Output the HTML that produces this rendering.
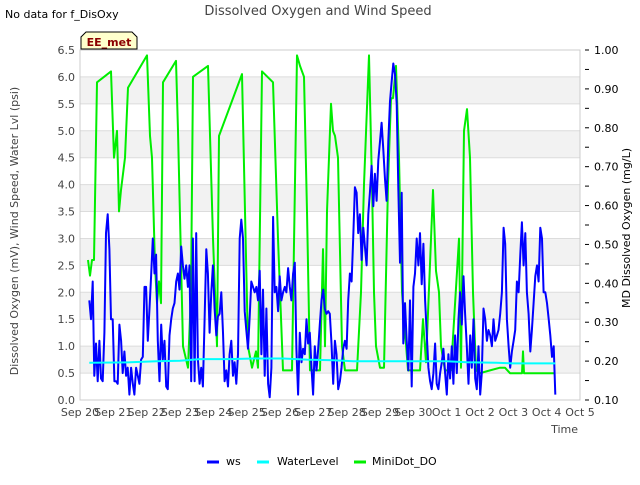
<!DOCTYPE html>
<html><head><meta charset="utf-8">
<style>
body{margin:0;background:#fff;}
svg text{font-family:"DejaVu Sans","Liberation Sans",sans-serif;}
</style></head>
<body>
<svg id="chart" width="640" height="480" viewBox="0 0 640 480">
<rect width="640" height="480" fill="#fff"/>
<text x="5" y="18" font-size="11" fill="#000">No data for f_DisOxy</text>
<text x="318" y="15" font-size="13" fill="#444" text-anchor="middle">Dissolved Oxygen and Wind Speed</text>
<g id="bands"></g>
<g id="grid"></g>
<g id="series"></g>
<rect x="80" y="50" width="500" height="350" fill="none" stroke="#ccc"/>
<g id="axes"></g>
<g>
<path d="M81,49 L81,37 L86,32 L132,32 L137,37 L137,49 Z" fill="#ffffcc" stroke="#000" stroke-width="1"/>
<text x="109" y="46" font-size="11" font-weight="bold" fill="#8b0000" text-anchor="middle">EE_met</text>
</g>
<text x="18" y="231" font-size="11" fill="#444" text-anchor="middle" transform="rotate(-90 18 231)">Dissolved Oxygen (mV), Wind Speed, Water Lvl (psi)</text>
<text x="630" y="228" font-size="11" fill="#000" text-anchor="middle" transform="rotate(-90 630 228)">MD Dissolved Oxygen (mg/L)</text>
<text x="578" y="433" font-size="11" fill="#444" text-anchor="end">Time</text>
<g>
<g><line x1="207" y1="462" x2="219" y2="462" stroke="#0000ff" stroke-width="3"/><text x="226" y="465" font-size="11" fill="#000">ws</text></g>
<g><line x1="257" y1="462" x2="269" y2="462" stroke="#00ffff" stroke-width="3"/><text x="277" y="465" font-size="11" fill="#000">WaterLevel</text></g>
<g><line x1="354" y1="462" x2="366" y2="462" stroke="#00ee00" stroke-width="3"/><text x="372" y="465" font-size="11" fill="#000">MiniDot_DO</text></g>
</g>
</svg>
<script>
const xLabels=["Sep 20","Sep 21","Sep 22","Sep 23","Sep 24","Sep 25","Sep 26","Sep 27","Sep 28","Sep 29","Sep 30","Oct 1","Oct 2","Oct 3","Oct 4","Oct 5"];
const leftTicks=[0,0.5,1,1.5,2,2.5,3,3.5,4,4.5,5,5.5,6,6.5];
const rightTicks=[0.1,0.2,0.3,0.4,0.5,0.6,0.7,0.8,0.9,1.0];
const wsStart=0.28, wsEnd=14.26;
const wsValues=[1.85,1.5,2.2,0.45,1.05,0.35,1.1,0.4,0.35,1.25,3.1,3.45,2.8,1.5,1.5,0.35,0.35,0.3,1.4,1.1,0.5,0.9,0.45,0.6,0.1,0.6,0.3,0.1,0.6,0.45,0.3,0.75,0.8,2.1,2.1,1.1,1.7,2.3,3.0,2.35,2.7,1.1,0.35,1.4,0.75,1.1,0.25,0.2,1.2,1.5,1.7,1.8,2.2,2.35,2.05,2.85,2.5,2.25,2.5,2.1,2.5,0.35,3.0,0.35,3.1,0.75,0.3,0.6,0.25,1.5,2.8,2.35,1.25,2.0,2.5,1.7,1.2,1.55,1.6,2.0,1.25,0.35,0.55,0.25,0.85,1.1,0.45,0.7,0.3,0.85,3.0,3.35,3.0,1.65,1.3,0.95,1.55,2.2,2.1,2.0,2.1,1.85,2.4,0.85,2.05,0.45,1.7,0.3,0.05,0.6,3.4,2.0,2.1,1.65,2.3,1.85,2.0,2.1,2.0,2.45,2.1,1.85,2.35,2.55,0.95,0.1,1.25,0.7,0.95,0.85,1.5,1.05,1.25,0.6,0.1,1.0,0.55,0.95,1.4,1.85,2.05,1.7,1.6,1.65,1.6,1.05,0.3,1.1,0.85,0.2,0.35,0.6,0.95,1.1,0.95,1.85,2.35,2.2,3.0,3.95,3.85,3.1,3.45,2.6,3.2,2.85,2.5,3.45,3.85,4.35,3.6,4.2,3.7,4.45,4.8,5.15,4.65,4.1,3.7,4.8,5.55,5.9,6.25,6.05,5.5,3.95,2.55,3.85,1.05,1.8,1.1,0.55,1.85,0.25,2.1,2.35,3.0,2.5,3.1,2.15,2.9,1.85,1.25,0.6,0.35,0.2,0.5,1.05,0.3,0.2,0.5,0.7,0.95,0.5,0.1,0.85,0.4,1.0,0.3,1.2,0.5,1.5,2.0,1.4,2.3,1.6,1.0,0.3,1.2,0.6,1.5,0.4,0.2,1.0,0.1,0.5,1.7,1.5,1.1,1.3,1.2,1.0,1.5,1.1,1.2,1.3,1.6,2.0,3.2,2.9,1.5,1.0,0.6,0.9,1.1,1.3,2.2,2.0,2.7,3.3,2.5,3.1,2.0,1.6,0.9,1.3,1.8,2.3,2.5,2.2,3.2,3.0,2.0,2.0,1.8,1.5,1.2,0.8,1.0,0.1];
const wlTimes=[0.28,1.5,2.3,3.0,3.6,4.5,5.2,6.1,6.8,7.6,8.2,9.5,10.5,11.0,11.6,12.5,13.0,13.5,14.26];
const wlValues=[0.69,0.7,0.72,0.73,0.76,0.76,0.77,0.77,0.75,0.74,0.72,0.72,0.72,0.72,0.7,0.69,0.68,0.68,0.68];
const doTimes=[0.24,0.30,0.36,0.42,0.51,0.93,1.02,1.11,1.17,1.23,1.35,1.44,
 2.01,2.10,2.16,2.25,2.31,2.37,2.43,2.49,2.88,2.94,3.09,3.24,3.33,3.39,
 3.84,3.99,4.11,4.17,4.86,4.95,5.04,5.16,5.28,5.34,
 5.46,5.79,5.94,6.09,6.36,6.51,6.60,6.72,6.81,6.90,
 7.20,7.29,7.35,7.41,7.53,7.59,7.65,7.74,7.86,7.95,
 8.31,8.43,8.52,8.67,8.76,8.82,8.88,9.00,9.12,9.24,9.33,9.39,9.48,9.57,9.66,9.84,
 10.20,10.29,10.38,10.59,10.68,10.77,10.83,10.95,11.13,11.37,11.43,11.52,11.61,11.70,11.79,11.88,
 12.00,12.30,12.60,12.75,12.90,13.26,13.29,13.32,13.65,14.25];
const doValues=[0.46,0.42,0.46,0.46,0.917,0.945,0.723,0.792,0.585,0.64,0.723,0.903,
 0.986,0.779,0.723,0.446,0.349,0.405,0.349,0.917,0.972,0.792,0.238,0.183,0.377,0.931,
 0.959,0.515,0.238,0.779,0.938,0.585,0.238,0.183,0.225,0.183,
 0.945,0.917,0.515,0.176,0.176,0.986,0.959,0.931,0.585,0.176,
 0.176,0.488,0.238,0.585,0.862,0.792,0.779,0.723,0.238,0.176,
 0.176,0.377,0.654,0.986,0.654,0.377,0.238,0.183,0.183,0.654,0.876,0.876,0.959,0.723,0.377,0.176,
 0.176,0.308,0.197,0.64,0.432,0.377,0.238,0.176,0.176,0.515,0.183,0.792,0.848,0.723,0.377,0.176,
 0.169,0.176,0.183,0.183,0.169,0.169,0.225,0.169,0.169,0.169];

const X0=80,X1=580,Y0=400,Y1=50;
const xs=d=>X0+(d/15)*(X1-X0);
const yL=v=>Y0-(v/6.5)*(Y0-Y1);
const yR=v=>Y0-((v-0.1)/0.9)*(Y0-Y1);
const NS="http://www.w3.org/2000/svg";
function mk(tag,attrs,parent){const e=document.createElementNS(NS,tag);for(const k in attrs)e.setAttribute(k,attrs[k]);parent.appendChild(e);return e;}
const bands=document.getElementById('bands'),grid=document.getElementById('grid'),axes=document.getElementById('axes'),series=document.getElementById('series');
for(let i=0;i<leftTicks.length-1;i++){
  if(i%2===1){const b=mk('rect',{x:X0,y:yL(leftTicks[i+1]),width:X1-X0,height:yL(leftTicks[i])-yL(leftTicks[i+1]),fill:'#f2f2f2'},bands);
  
  }
}
leftTicks.forEach(v=>{
  const g=mk('line',{x1:X0,x2:X1,y1:yL(v),y2:yL(v),stroke:'#dcdcdc','stroke-width':1},grid);
  
  
  const t=mk('text',{x:X0-5,y:yL(v)+4,'font-size':11,fill:'#444','text-anchor':'end'},axes);t.textContent=v.toFixed(1);
  
  
});
rightTicks.forEach(v=>{
  const l=mk('line',{x1:X1+5,x2:X1+9,y1:yR(v),y2:yR(v),stroke:'#000'},axes);
  
  
  const t=mk('text',{x:X1+14,y:yR(v)+4,'font-size':11,fill:'#000'},axes);t.textContent=v.toFixed(2);
  
  
  if(v<0.95){const m=mk('line',{x1:X1+5,x2:X1+9,y1:yR(v+0.05),y2:yR(v+0.05),stroke:'#000'},axes);
  
  }
});
xLabels.forEach((s,i)=>{
  const t=mk('text',{x:xs(i),y:416,'font-size':11,fill:'#444','text-anchor':'middle'},axes);t.textContent=s;
  
  
});
function path(pts,color,w,name){
  const p=mk('polyline',{points:pts.map(q=>q[0].toFixed(1)+','+q[1].toFixed(1)).join(' '),fill:'none',stroke:color,'stroke-width':w,'stroke-linejoin':'round'},series);
  
  
}
path(doTimes.map((t,i)=>[xs(t),yR(doValues[i])]),'#00ee00',2,'minidot-do-line');
const step=(wsEnd-wsStart)/(wsValues.length-1);
path(wsValues.map((v,i)=>[xs(wsStart+i*step),yL(v)]),'#0000ff',2,'ws-line');
path(wlTimes.map((t,i)=>[xs(t),yL(wlValues[i])]),'#00ffff',2,'waterlevel-line');
</script>
</body></html>
